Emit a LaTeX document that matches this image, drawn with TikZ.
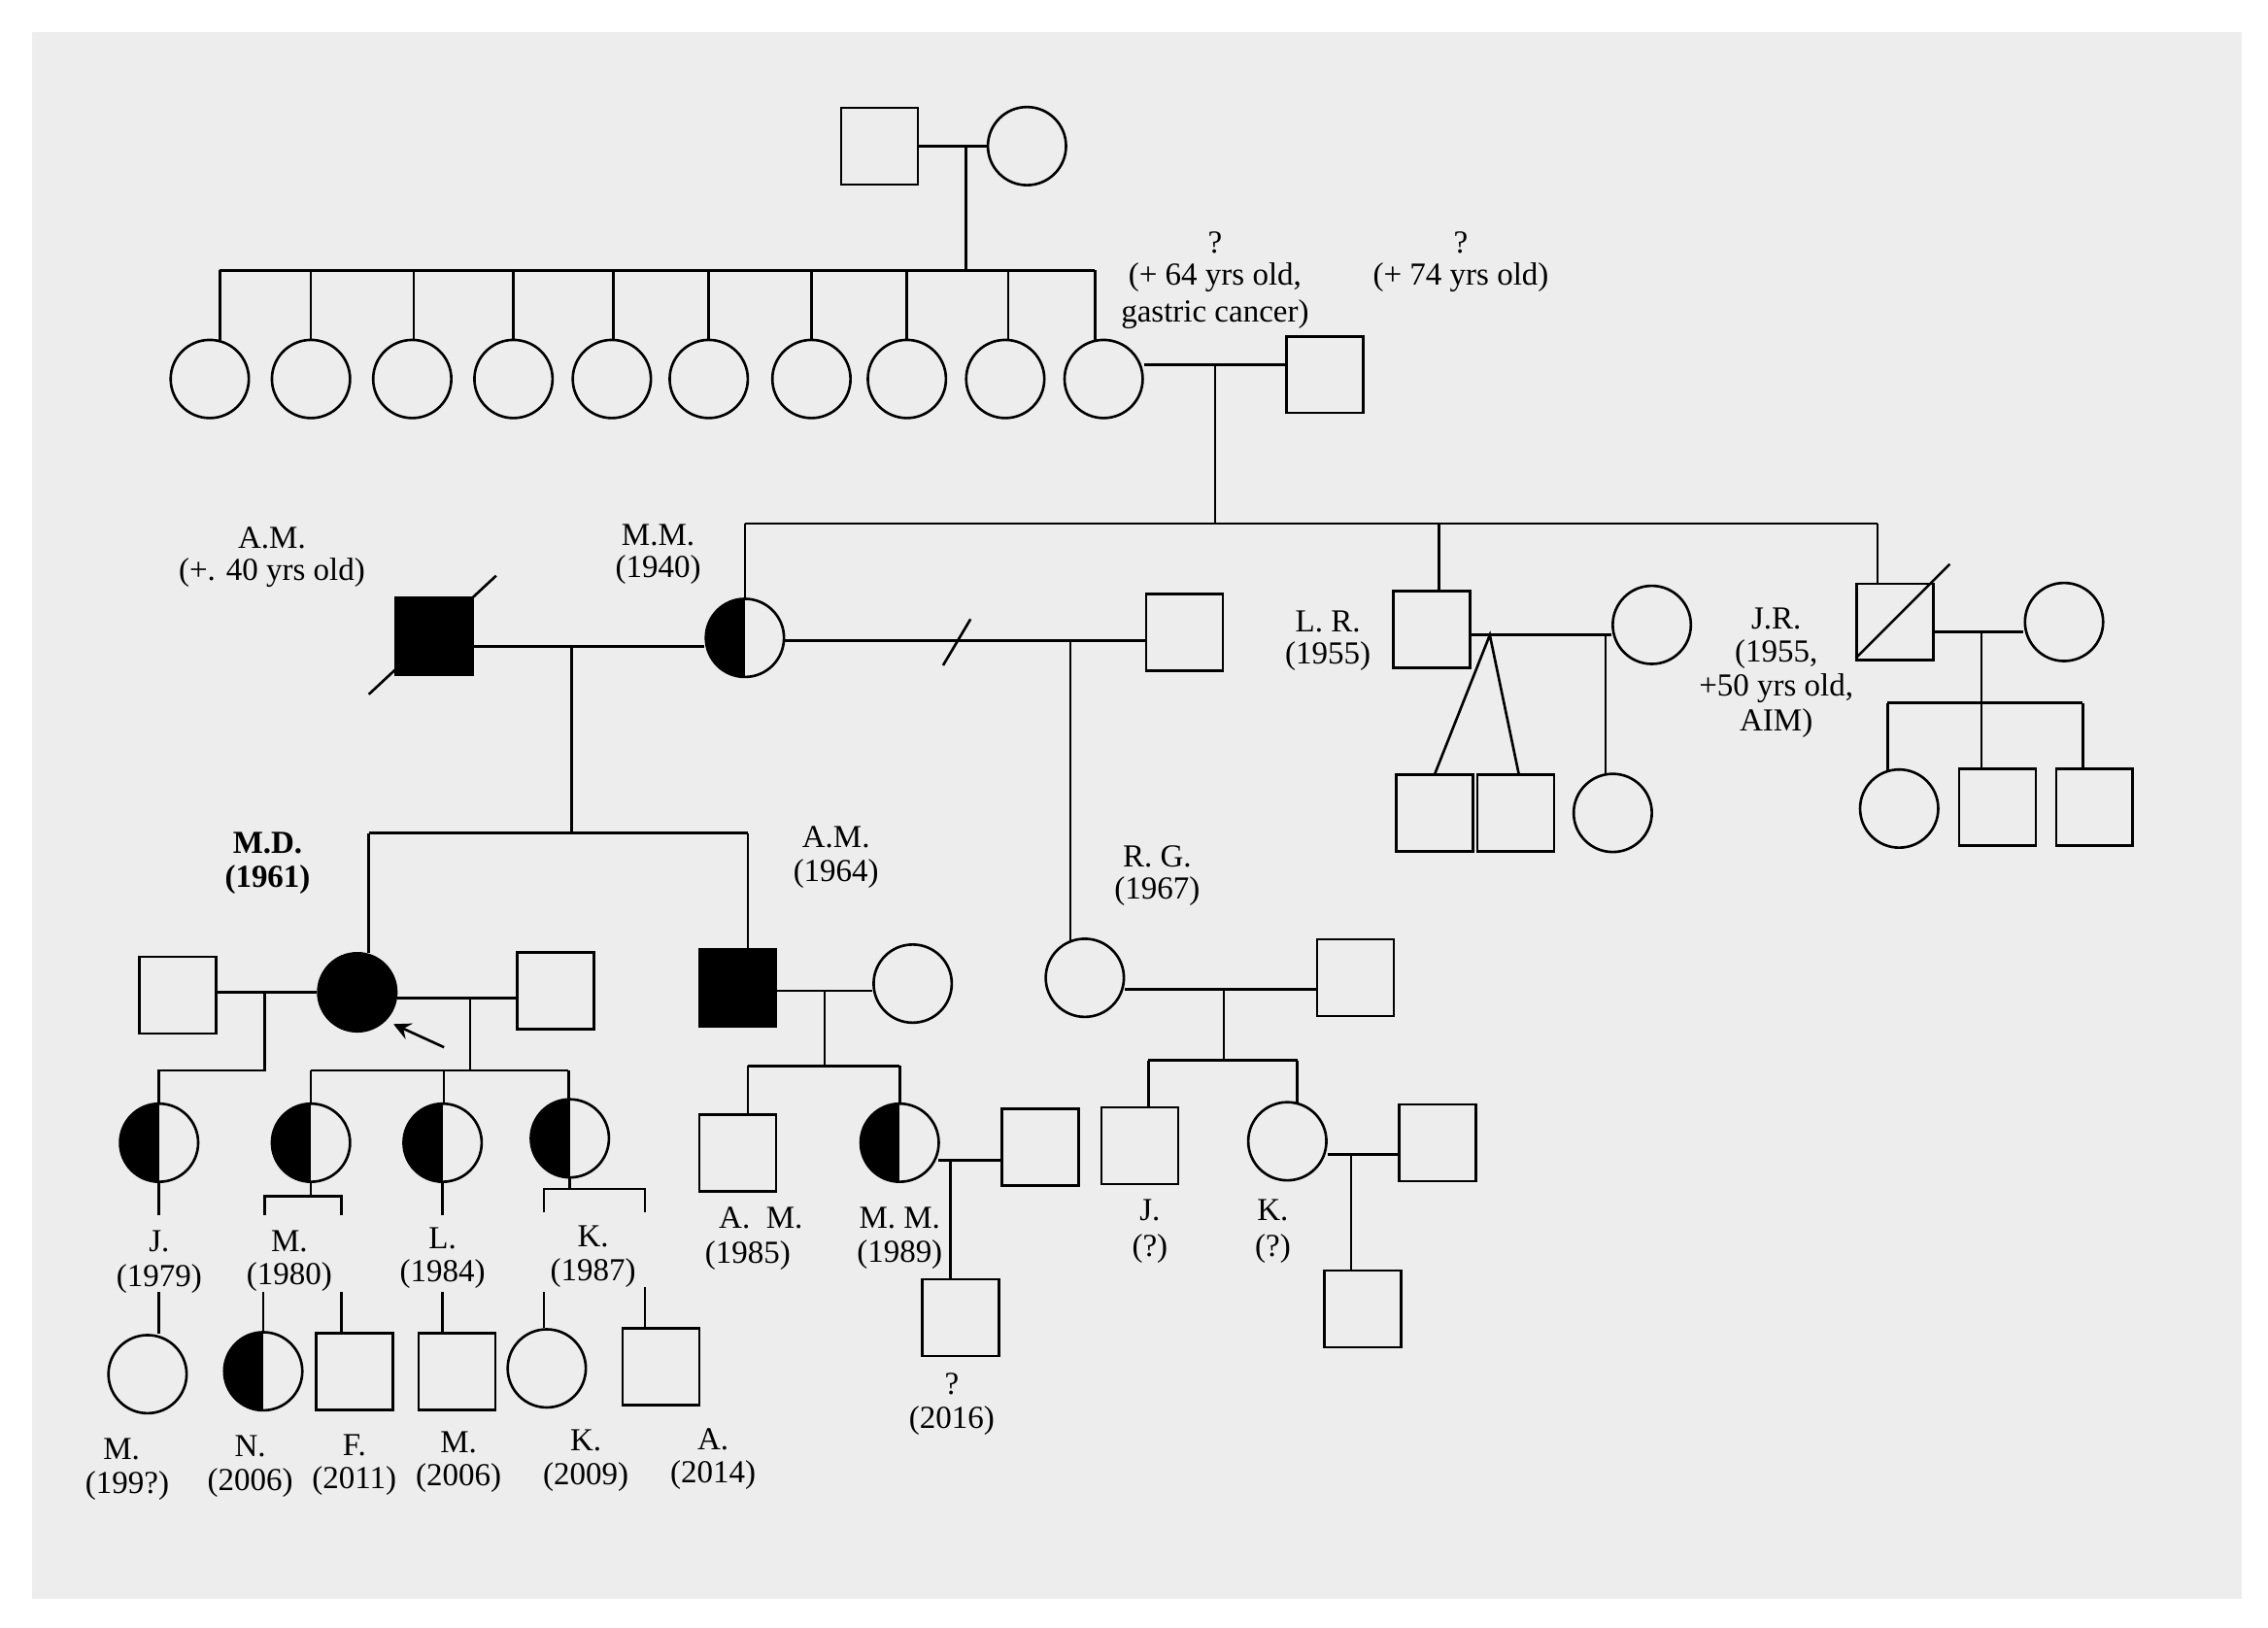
\documentclass[tikz,border=0pt]{standalone}
\usepackage{fontspec}
\setmainfont{Liberation Serif}
\begin{document}
\begin{tikzpicture}[x=0.01cm,y=-0.01cm,line width=0.5pt,
  sq/.style={draw,minimum size=0.53cm,inner sep=0pt},
  ci/.style={circle,draw,minimum size=0.54cm,inner sep=0pt},
  aff/.style={fill=black},
  half/.style={ci,path picture={\fill[black] (path picture bounding box.south west) rectangle (path picture bounding box.north);}},
  lab/.style={font=\fontsize{6.3}{7}\selectfont,inner sep=0pt,align=center}]
\useasboundingbox (0,0) rectangle (1568,1125);
\fill[white] (0,0) rectangle (1568,1125);
\fill[gray!14] (22,22) rectangle (1550,1105);
% generation I
\node[sq] (gf) at (608,101) {};
\node[ci] (gm) at (710,101) {};
\draw (gf.east) -- (gm.west);
\draw (668,101) -- (668,187);
\draw (152,187) -- (757,187);
\foreach \x/\d [count=\i] in {145/152,215/215,285/286,355/355,423/424,490/490,561/561,627/627,695/697,763/757}{
  \node[ci] (s\i) at (\x,262) {};
  \draw (\d,187) -- (\d,235);
}
\node[sq] (gp) at (916,259) {};
\draw (s10.east |- 0,252) -- (gp.west |- 0,252);
\node[lab] (t1) at (840,168) {?};
\node[lab] (t2) at (840,192) {(+ 64 yrs old,};
\node[lab] (t3) at (840,217) {gastric cancer)};
\node[lab] (t4) at (1010,168) {?};
\node[lab] (t5) at (1010,192) {(+ 74 yrs old)};
\draw (840,252) -- (840,362);
\draw (515,362) -- (1298,362);
% generation II
\node[half] (mm) at (515,441) {};
\draw (515,362) -- (mm.north);
\node[sq,aff] (am) at (300,440) {};
\draw (255,480) -- (343,398);
\draw (am.east |- 0,447) -- (mm.west |- 0,447);
\node[lab] at (188,372) {A.M.};
\node[lab] at (188,396) {(+. 40 yrs old)};
\node[lab] at (455,370) {M.M.};
\node[lab] at (455,394) {(1940)};
\node[sq] (mm2) at (819,437) {};
\draw (mm.east |- 0,443) -- (mm2.west |- 0,443);
\draw (652,460) -- (671,428);
\draw (740,443) -- (740,650);
\node[sq] (lr) at (990,435) {};
\draw (995,362) -- (995,408);
\node[ci] (lrw) at (1142,432) {};
\draw (lr.east |- 0,439) -- (lrw.west |- 0,439);
\node[lab] at (918,430) {L. R.};
\node[lab] at (918,454) {(1955)};
\node[sq] (tw1) at (992,562) {};
\node[sq] (tw2) at (1048,562) {};
\node[ci] (lrd) at (1115,562) {};
\draw (992,535) -- (1030,439) -- (1050,535);
\draw (1110,439) -- (1110,535);
\node[sq] (jr) at (1310,430) {};
\draw (1298,362) -- (1298,403);
\draw (1283,455) -- (1348,390);
\node[ci] (jrw) at (1427,430) {};
\draw (jr.east |- 0,437) -- (jrw.west |- 0,437);
\node[lab] at (1228,428) {J.R.};
\node[lab] at (1228,452) {(1955,};
\node[lab] at (1228,476) {+50 yrs old,};
\node[lab] at (1228,500) {AIM)};
\draw (1370,437) -- (1370,486);
\draw (1305,486) -- (1440,486);
\node[ci] (jr1) at (1313,559) {};
\node[sq] (jr2) at (1381,558) {};
\node[sq] (jr3) at (1448,558) {};
\draw (1305,486) -- (1305,533) (1370,486) -- (1370,531) (1440,486) -- (1440,531);
% generation III
\draw (395,447) -- (395,576);
\draw (255,576) -- (517,576);
\node[ci,aff] (md) at (247,686) {};
\node[sq,aff] (am2) at (510,683) {};
\draw (255,576) -- (255,659) (517,576) -- (517,656);
\node[lab,font=\fontsize{6.3}{7}\selectfont\bfseries] at (185,583) {M.D.};
\node[lab,font=\fontsize{6.3}{7}\selectfont\bfseries] at (185,608) {(1961)};
\node[lab] at (578,579) {A.M.};
\node[lab] at (578,604) {(1964)};
\node[lab] at (800,592) {R. G.};
\node[lab] at (800,616) {(1967)};
\node[sq] (h1) at (123,688) {};
\draw (h1.east |- 0,686) -- (md.west |- 0,686);
\node[sq] (h2) at (384,685) {};
\draw (md.east |- 0,690) -- (h2.west |- 0,690);
\draw[->,>=stealth] (307,724) -- (272,708);
\draw (183,686) -- (183,740) -- (110,740) -- (110,763);
\draw (325,690) -- (325,740);
\draw (215,740) -- (393,740);
\draw (215,740) -- (215,763) (307,740) -- (307,763) (393,740) -- (393,760);
\node[half] (j) at (110,790) {};
\node[half] (m) at (215,790) {};
\node[half] (l) at (306,790) {};
\node[half] (k) at (394,787) {};
\node[ci] (amw) at (631,680) {};
\draw (am2.east |- 0,685) -- (amw.west |- 0,685);
\draw (570,685) -- (570,737);
\draw (517,737) -- (622,737);
\draw (517,737) -- (517,770) (622,737) -- (622,763);
\node[sq] (am3) at (510,797) {};
\node[half] (mm3) at (622,790) {};
\node[sq] (mmh) at (719,793) {};
\draw (649,802) -- (mmh.west |- 0,802);
\draw (657,802) -- (657,884);
\node[sq] (q) at (664,911) {};
\node[lab] at (658,957) {?};
\node[lab] at (658,982) {(2016)};
\node[ci] (rg) at (750,676) {};
\node[sq] (rgh) at (937,676) {};
\draw (rg.east |- 0,684) -- (rgh.west |- 0,684);
\draw (846,684) -- (846,733);
\draw (794,733) -- (897,733);
\draw (794,733) -- (794,765) (897,733) -- (897,762);
\node[sq] (jq) at (788,792) {};
\node[ci] (kq) at (890,789) {};
\node[sq] (kh) at (994,790) {};
\draw (kq.east |- 0,798) -- (kh.west |- 0,798);
\draw (934,798) -- (934,878);
\node[sq] (kc) at (942,905) {};
\node[lab] at (110,858) {J.};
\node[lab] at (110,884) {(1979)};
\node[lab] at (200,858) {M.};
\node[lab] at (200,883) {(1980)};
\node[lab] at (306,856) {L.};
\node[lab] at (306,881) {(1984)};
\node[lab] at (410,855) {K.};
\node[lab] at (410,880) {(1987)};
\node[lab] at (526,842) {A.\ \ M.};
\node[lab] at (517,868) {(1985)};
\node[lab] at (622,842) {M. M.};
\node[lab] at (622,867) {(1989)};
\node[lab] at (795,837) {J.};
\node[lab] at (795,863) {(?)};
\node[lab] at (880,837) {K.};
\node[lab] at (880,863) {(?)};
% generation IV
\draw (110,817) -- (110,840);
\draw (110,893) -- (110,922);
\node[ci] (c1) at (102,950) {};
\draw (215,817) -- (215,827);
\draw (183,840) -- (183,827) -- (236,827) -- (236,840);
\draw (182,893) -- (182,922);
\draw (236,893) -- (236,921);
\node[half] (c2) at (182,948) {};
\node[sq] (c3) at (245,948) {};
\draw (306,817) -- (306,840);
\draw (306,893) -- (306,921);
\node[sq] (c4) at (316,948) {};
\draw (394,814) -- (394,822);
\draw (376,838) -- (376,822) -- (446,822) -- (446,838);
\draw (376,893) -- (376,918);
\draw (446,890) -- (446,918);
\node[ci] (c5) at (378,946) {};
\node[sq] (c6) at (457,945) {};
\node[lab] at (84,1002) {M.};
\node[lab] at (88,1027) {(199?)};
\node[lab] at (173,1000) {N.};
\node[lab] at (173,1025) {(2006)};
\node[lab] at (245,999) {F.};
\node[lab] at (245,1024) {(2011)};
\node[lab] at (317,997) {M.};
\node[lab] at (317,1022) {(2006)};
\node[lab] at (405,996) {K.};
\node[lab] at (405,1021) {(2009)};
\node[lab] at (493,995) {A.};
\node[lab] at (493,1020) {(2014)};
\end{tikzpicture}
\end{document}
